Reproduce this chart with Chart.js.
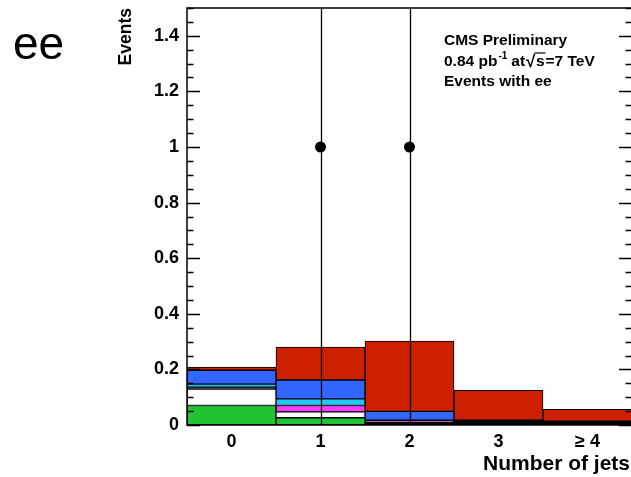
<!DOCTYPE html>
<html>
<head>
<meta charset="utf-8">
<script src="https://cdn.jsdelivr.net/npm/chart.js@4.4.1/dist/chart.umd.min.js"></script>
<style>
  html, body { margin: 0; padding: 0; background: #fff; overflow: hidden; }
  #wrap { width: 634px; height: 477px; }
</style>
</head>
<body>
<div id="wrap"><canvas id="c" width="634" height="477"></canvas></div>
<script>
// Jet-multiplicity bins
const jetBins = ['0', '1', '2', '3', '\u2265 4'];

// Stacked expectation per bin, listed from the bottom of the stack upward
const greenStack   = [0.070, 0.026, null,  null,  null ];
const whiteStack   = [0.059, 0.021, null,  null,  null ];
const blackStack   = [0.007, null,  0.010, 0.017, 0.014];
const magentaStack = [null,  0.023, 0.007, null,  null ];
const cyanStack    = [0.011, 0.024, null,  null,  null ];
const blueStack    = [0.050, 0.068, 0.032, null,  null ];
const redStack     = [0.011, 0.118, 0.253, 0.108, 0.042];

// Observed events and their statistical uncertainty
const observed    = [null, 1, 1, null, null];
const observedErr = [0, 1, 1, 0, 0];

// Vertical axis
const yTicks = [0, 0.2, 0.4, 0.6, 0.8, 1, 1.2, 1.4];
const yMax = 1.5;
const yMinorStep = 0.05;

const xTitle = 'Number of jets';
const FONT = '"Liberation Sans", Arial, Helvetica, sans-serif';

function stackSet(label, data, color) {
  return {
    type: 'bar', label, data,
    backgroundColor: color, borderColor: '#000', borderWidth: 1,
    borderSkipped: false, barPercentage: 1, categoryPercentage: 1,
    stack: 'expected', order: 1
  };
}

// Frame, inward tick marks, error bars and the text block
const decorations = {
  id: 'decorations',
  afterDatasetsDraw(chart) {
    const { ctx, chartArea: a, scales: { x, y } } = chart;
    ctx.save();
    // error bars, clipped to the frame
    ctx.beginPath();
    ctx.rect(a.left, a.top, a.right - a.left, a.bottom - a.top);
    ctx.clip();
    ctx.strokeStyle = '#000';
    ctx.lineWidth = 1.3;
    observed.forEach((v, i) => {
      if (v === null) return;
      const px = Math.round(x.getPixelForValue(i)) + 0.5;
      ctx.beginPath();
      ctx.moveTo(px, y.getPixelForValue(v - observedErr[i]));
      ctx.lineTo(px, y.getPixelForValue(v + observedErr[i]));
      ctx.stroke();
    });
    ctx.restore();

    ctx.save();
    ctx.strokeStyle = '#000';
    ctx.lineWidth = 1.5;
    ctx.strokeRect(a.left, a.top, a.right - a.left, a.bottom - a.top);
    ctx.lineWidth = 1.3;
    const n = Math.round(yMax / yMinorStep);
    for (let k = 0; k <= n; k++) {
      const v = k * yMinorStep;
      const major = k % 4 === 0;
      const len = major ? 13 : 6.5;
      const py = Math.round(y.getPixelForValue(v)) + 0.5;
      ctx.beginPath();
      ctx.moveTo(a.left, py); ctx.lineTo(a.left + len, py);
      ctx.moveTo(a.right, py); ctx.lineTo(a.right - len, py);
      ctx.stroke();
    }
    ctx.restore();
  },
  afterDraw(chart) {
    const ctx = chart.ctx;
    ctx.save();
    ctx.fillStyle = '#000';
    ctx.textBaseline = 'alphabetic';
    ctx.textAlign = 'left';

    ctx.font = '46px ' + FONT;
    ctx.fillText('ee', 13, 59);

    // horizontal axis title, right-aligned under the frame
    ctx.font = 'bold 21px ' + FONT;
    ctx.textAlign = 'right';
    ctx.fillText(xTitle, 630, 470);
    ctx.textAlign = 'left';

    const x0 = 444;
    ctx.font = 'bold 15.5px ' + FONT;
    ctx.fillText('CMS Preliminary', x0, 45);

    let x = x0;
    const y2 = 66;
    ctx.fillText('0.84 pb', x, y2);
    x += ctx.measureText('0.84 pb').width + 1;
    ctx.font = 'bold 10px ' + FONT;
    ctx.fillText('-1', x, y2 - 7);
    x += ctx.measureText('-1').width + 4;
    ctx.font = 'bold 15.5px ' + FONT;
    ctx.fillText('at', x, y2);
    x += ctx.measureText('at').width + 1;
    ctx.font = 'bold 17px ' + FONT;
    ctx.fillText('\u221A', x, y2 + 1);
    x += ctx.measureText('\u221A').width;
    ctx.font = 'bold 15.5px ' + FONT;
    const sW = ctx.measureText('s').width;
    ctx.fillText('s', x + 0.5, y2);
    ctx.strokeStyle = '#000';
    ctx.lineWidth = 1.2;
    ctx.beginPath();
    ctx.moveTo(x - 1, y2 - 13);
    ctx.lineTo(x + sW + 1.5, y2 - 13);
    ctx.stroke();
    x += sW + 1.5;
    ctx.fillText('=7 TeV', x, y2);

    ctx.fillText('Events with ee', x0, 86);
    ctx.restore();
  }
};

new Chart(document.getElementById('c'), {
  data: {
    labels: jetBins,
    datasets: [
      {
        type: 'line', label: 'data', data: observed,
        showLine: false, pointRadius: 5.5, pointHoverRadius: 5.5,
        pointBackgroundColor: '#000', pointBorderWidth: 0, order: 0
      },
      stackSet('green', greenStack, '#22c433'),
      stackSet('white', whiteStack, '#ffffff'),
      stackSet('black', blackStack, '#000000'),
      stackSet('magenta', magentaStack, '#ff3cff'),
      stackSet('cyan', cyanStack, '#22c8f5'),
      stackSet('blue', blueStack, '#3366ff'),
      stackSet('red', redStack, '#cc2000')
    ]
  },
  options: {
    responsive: false,
    animation: false,
    events: [],
    layout: { autoPadding: false, padding: { left: 111, right: 2, top: 8, bottom: 0 } },
    plugins: { legend: { display: false }, tooltip: { enabled: false } },
    scales: {
      x: {
        type: 'category', stacked: true, offset: true,
        grid: { display: false, drawTicks: false }, border: { display: false },
        ticks: { color: '#000', font: { family: FONT, size: 18, weight: 'bold' }, padding: 6, maxRotation: 0 },
        title: { display: false },
        afterFit(s) { s.height = 52; s.paddingLeft = 0; s.paddingRight = 0; }
      },
      y: {
        type: 'linear', stacked: true, min: 0, max: yMax,
        grid: { display: false, drawTicks: false }, border: { display: false },
        afterBuildTicks(s) { s.ticks = yTicks.map(v => ({ value: v })); },
        ticks: {
          color: '#000', font: { family: FONT, size: 18, weight: 'bold' }, padding: 8,
          callback: v => String(v)
        },
        title: {
          display: true, text: 'Events', align: 'end', color: '#000',
          font: { family: FONT, size: 17.5, weight: 'bold' }, padding: { top: 5, bottom: 0 }
        },
        afterFit(s) { s.width = 76; s.paddingTop = 0; s.paddingBottom = 0; }
      }
    }
  },
  plugins: [decorations]
});
</script>
</body>
</html>
